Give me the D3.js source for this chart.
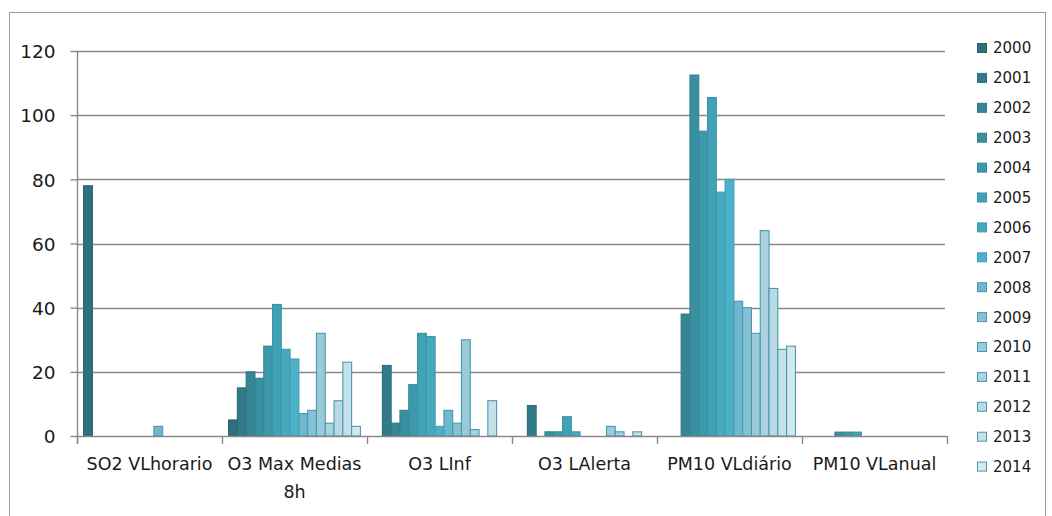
<!DOCTYPE html>
<html>
<head>
<meta charset="utf-8">
<script src="https://cdn.jsdelivr.net/npm/d3@7"></script>
<style>
  html, body { margin: 0; padding: 0; background: #ffffff; }
  svg { display: block; }
  text { font-family: "DejaVu Sans", sans-serif; fill: #1a1a1a; }
</style>
</head>
<body>
<svg id="chart" width="1052" height="516"></svg>
<script>
// ---- data ----
const categories = ["SO2 VLhorario", "O3 Max Medias 8h", "O3 LInf", "O3 LAlerta", "PM10 VLdiário", "PM10 VLanual"];
const years = ["2000","2001","2002","2003","2004","2005","2006","2007","2008","2009","2010","2011","2012","2013","2014"];
const valuesSO2VLhorario = [78, 0, 0, 0, 0, 0, 0, 0, 3, 0, 0, 0, 0, 0, 0];
const valuesO3MaxMedias8h = [5, 15, 20, 18, 28, 41, 27, 24, 7, 8, 32, 4, 11, 23, 3];
const valuesO3LInf = [0, 22, 4, 8, 16, 32, 31, 3, 8, 4, 30, 2, 0, 11, 0];
const valuesO3LAlerta = [0, 9.5, 0, 1.3, 1.3, 6, 1.3, 0, 0, 0, 3, 1.3, 0, 1.3, 0];
const valuesPM10VLdiario = [0, 0, 38, 112.5, 95, 105.5, 76, 80, 42, 40, 32, 64, 46, 27, 28];
const valuesPM10VLanual = [0, 0, 0, 1.2, 1.2, 1.2, 0, 0, 0, 0, 0, 0, 0, 0, 0];
const yTicks = [0, 20, 40, 60, 80, 100, 120];
const seriesColors = ["#2F6F7E","#327A8A","#358595","#388FA0","#3C98AA","#41A2B6","#45AABF","#4BB0C8",
                      "#6DB8CE","#86C2D4","#9ACAD9","#AAD2DF","#B9DAE5","#C7E1EA","#D5E9F0"];

const categoryValues = [valuesSO2VLhorario, valuesO3MaxMedias8h, valuesO3LInf, valuesO3LAlerta, valuesPM10VLdiario, valuesPM10VLanual];
const table = categories.map((c, ci) => ({ category: c, values: years.map((y, yi) => ({ year: y, yi, value: categoryValues[ci][yi] })) }));

// ---- layout ----
const svg = d3.select("#chart");
const plotLeft = 77, plotRight = 947, plotTop = 51, plotBottom = 436;
const gridColor = "#898989";

svg.append("rect").attr("x", 9.5).attr("y", 12.5).attr("width", 1036).attr("height", 520)
  .attr("fill", "none").attr("stroke", "#9a9a9a").attr("stroke-width", 1);

const y = d3.scaleLinear().domain([0, 120]).range([plotBottom, plotTop]);
const x0 = d3.scaleBand().domain(categories).range([plotLeft, plotRight]).paddingInner(0).paddingOuter(0);
const x1 = d3.scaleBand().domain(years).range([0, x0.bandwidth()]).paddingInner(0).paddingOuter(0.75);
const color = d3.scaleOrdinal().domain(years).range(seriesColors);
const strokeFor = (yr, i) => i < 8 ? d3.color(color(yr)).darker(0.3) : "#4A98AE";

// gridlines
svg.append("g").selectAll("line").data(yTicks.filter(t => t > 0)).join("line")
  .attr("x1", plotLeft).attr("x2", plotRight - 2)
  .attr("y1", d => Math.round(y(d)) + 0.5).attr("y2", d => Math.round(y(d)) + 0.5)
  .attr("stroke", gridColor).attr("stroke-width", 1.4);

// y axis
const yAxis = d3.axisLeft(y).tickValues(yTicks).tickSize(7).tickPadding(15);
const gy = svg.append("g").attr("transform", `translate(${plotLeft + 0.5},0)`).call(yAxis);
gy.select(".domain").attr("d", `M0,${plotTop}V${plotBottom + 8}`).attr("stroke", gridColor).attr("stroke-width", 1.4);
gy.selectAll(".tick line").attr("stroke", gridColor).attr("stroke-width", 1.4);
gy.selectAll(".tick text").style("font-family", "DejaVu Sans").style("font-size", "18.5px").attr("fill", "#1a1a1a")
  .attr("dy", "0.36em");

// bars
const groups = svg.append("g").selectAll("g").data(table).join("g")
  .attr("transform", d => `translate(${x0(d.category)},0)`);
groups.selectAll("rect").data(d => d.values.filter(v => v.value > 0)).join("rect")
  .attr("x", d => x1(d.year))
  .attr("y", d => y(d.value))
  .attr("width", x1.bandwidth())
  .attr("height", d => y(0) - y(d.value))
  .attr("fill", d => color(d.year))
  .attr("stroke", d => strokeFor(d.year, d.yi))
  .attr("stroke-width", 1.1);

// x axis
const xAxisG = svg.append("g");
xAxisG.append("line").attr("x1", plotLeft).attr("x2", plotRight)
  .attr("y1", plotBottom + 0.5).attr("y2", plotBottom + 0.5)
  .attr("stroke", gridColor).attr("stroke-width", 1.4);
const boundaries = categories.map(c => x0(c)).concat([x0(categories[categories.length - 1]) + x0.bandwidth()]);
xAxisG.selectAll("line.tk").data(boundaries).join("line").attr("class", "tk")
  .attr("x1", d => Math.round(d) + 0.5).attr("x2", d => Math.round(d) + 0.5)
  .attr("y1", plotBottom).attr("y2", plotBottom + 8)
  .attr("stroke", gridColor).attr("stroke-width", 1.4);

const labelLines = { "O3 Max Medias 8h": ["O3 Max Medias", "8h"] };
xAxisG.selectAll("text").data(categories).join("text")
  .attr("text-anchor", "middle")
  .style("font-size", "17.5px")
  .each(function(c) {
    const lines = labelLines[c] || [c];
    const t = d3.select(this);
    lines.forEach((ln, i) => {
      t.append("tspan").attr("x", x0(c) + x0.bandwidth() / 2).attr("y", 470 + i * 28).text(ln);
    });
  });

// legend
const legend = svg.append("g");
const rows = legend.selectAll("g").data(years).join("g")
  .attr("transform", (d, i) => `translate(977,${48 + i * 29.9})`);
rows.append("rect").attr("x", 0.5).attr("y", -4.5).attr("width", 9).attr("height", 9)
  .attr("fill", d => color(d))
  .attr("stroke", (d, i) => strokeFor(d, i)).attr("stroke-width", 1);
rows.append("text").attr("x", 16).attr("y", 0).attr("dy", "0.36em")
  .style("font-size", "15px").text(d => d);
</script>
</body>
</html>
